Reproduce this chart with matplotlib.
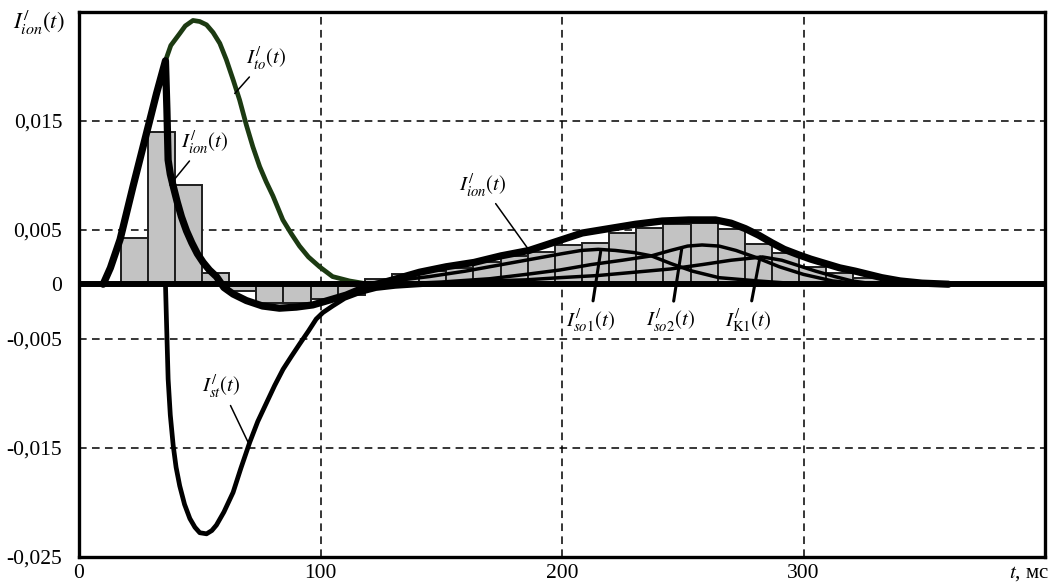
import matplotlib
matplotlib.use("Agg")
import matplotlib.pyplot as plt

plt.rcParams['mathtext.fontset'] = 'stix'
plt.rcParams['font.family'] = ['Liberation Serif', 'DejaVu Serif']

# ---------------- data ----------------
# histogram of I_ion(t): first bin start, bin width (ms) and bin values
bar_t0 = 17.2
bar_dt = 11.24
bar_vals = [0.0042, 0.0140, 0.0091, 0.0010, -0.0006, -0.0017, -0.0017, -0.0014,
            -0.0010, 0.0005, 0.0009, 0.0012, 0.0015, 0.0020, 0.0026, 0.0030,
            0.0036, 0.0038, 0.0047, 0.0052, 0.0055, 0.0056, 0.0051, 0.0037,
            0.0029, 0.0016, 0.0010, 0.0006]

# I_ion(t) (thick black)
ion_t = [10, 13, 17, 22.4, 28, 32.1, 35.8, 36.4, 36.9, 37.8, 39, 40.6, 42.4,
         44.5, 46.7, 49, 51.4, 54, 56.9, 60, 63.8, 69.3, 76, 83, 90, 96.8,
         103, 110.6, 116, 121.6, 130, 141, 152, 163.6, 174.7, 186.4, 197.4,
         208.4, 219.4, 230.4, 241.5, 252.5, 263.5, 270, 275.9, 281.4, 286.9,
         292, 297.9, 303, 309, 315, 321.4, 332.4, 340, 349, 360]
ion_v = [0, 0.0015, 0.0041, 0.0090, 0.0139, 0.0175, 0.0205, 0.0160, 0.0114,
         0.0101, 0.0090, 0.0076, 0.0062, 0.0049, 0.0038, 0.0028, 0.0020,
         0.0013, 0.0007, -0.0003, -0.0009, -0.0015, -0.0020, -0.0022,
         -0.0021, -0.0019, -0.0015, -0.0010, -0.0005, -0.0001, 0.0004,
         0.0011, 0.0016, 0.0020, 0.0026, 0.0031, 0.0039, 0.0047, 0.0051,
         0.0055, 0.0058, 0.0059, 0.0059, 0.0056, 0.0051, 0.0045, 0.0038,
         0.0032, 0.0027, 0.0023, 0.0019, 0.0015, 0.0012, 0.0006, 0.0003,
         0.0001, 0.0]

# I_to(t) (dark green)
to_t = [10, 13, 17, 22.4, 28, 32.1, 35.8, 38, 41.7, 44, 47.2, 50, 52.8, 55.5,
        58.3, 61, 63.9, 66.5, 69.3, 72, 74.8, 77.5, 80.3, 84.4, 88, 91.3, 95,
        99.6, 105, 112, 120]
to_v = [0, 0.0015, 0.0041, 0.0090, 0.0139, 0.0175, 0.0205, 0.0219, 0.0230,
        0.0237, 0.0242, 0.0241, 0.0238, 0.0231, 0.0221, 0.0206, 0.0187,
        0.0169, 0.0146, 0.0126, 0.0108, 0.0094, 0.0081, 0.0059, 0.0046,
        0.0035, 0.0025, 0.0016, 0.0007, 0.0003, 0.0]

# I_st(t)
st_t = [35.8, 36.3, 36.9, 37.8, 39, 40.2, 41.7, 43.7, 45.9, 48, 50, 52.8, 55,
        56.9, 60, 63.8, 67, 70.7, 74, 77.6, 81, 84.5, 88, 91.3, 95, 98.2,
        101, 105, 110, 116, 123, 131, 145]
st_v = [0, -0.0040, -0.0087, -0.0120, -0.0148, -0.0168, -0.0185, -0.0202,
        -0.0215, -0.0223, -0.0228, -0.0229, -0.0226, -0.0221, -0.0209,
        -0.0191, -0.0169, -0.0145, -0.0126, -0.0109, -0.0093, -0.0078,
        -0.0066, -0.0055, -0.0043, -0.0032, -0.0026, -0.0020, -0.0013,
        -0.0008, -0.0004, -0.0002, 0]

# I_so1(t), I_so2(t), I_K1(t)
so1_t = [115, 130, 145, 160, 175, 190, 200, 208, 215, 222, 230, 237, 245, 254,
         265, 281, 300]
so1_v = [0, 0.0003, 0.0007, 0.0012, 0.0018, 0.0024, 0.0028, 0.0031, 0.0032,
         0.0031, 0.0029, 0.0026, 0.0019, 0.0012, 0.0006, 0.0003, 0.0]
so2_t = [130, 150, 170, 185, 199, 212, 225, 237, 245, 252, 258, 265, 272, 281,
         290, 300, 312, 325]
so2_v = [0, 0.0002, 0.0005, 0.0009, 0.0013, 0.0018, 0.0022, 0.0026, 0.0031,
         0.0035, 0.0036, 0.0035, 0.0031, 0.0024, 0.0016, 0.0009, 0.0003, 0]
k1_t = [130, 150, 170, 185, 199, 215, 230, 245, 258, 270, 283, 291, 298, 305,
        313, 320, 330]
k1_v = [0, 0.0001, 0.0003, 0.0004, 0.0006, 0.0008, 0.0011, 0.0014, 0.0018,
        0.0022, 0.0025, 0.0022, 0.0017, 0.0012, 0.0007, 0.0003, 0]

x_ticks = [0, 100, 200, 300]
y_ticks = [-0.025, -0.015, -0.005, 0, 0.005, 0.015]
y_tick_labels = ['-0,025', '-0,015', '-0,005', '0', '0,005', '0,015']

# ---------------- figure ----------------
fig = plt.figure(figsize=(10.52, 5.83), dpi=100)
ax = fig.add_axes([0.0751, 0.0451, 0.9183, 0.9348])
ax.set_xlim(0, 400)
ax.set_ylim(-0.025, 0.025)

# grid
for gx in [100, 200, 300]:
    ax.axvline(gx, color='black', lw=1.1, ls=(0, (5, 3.5)), zorder=1)
for gy in [-0.015, -0.005, 0.005, 0.015]:
    ax.axhline(gy, color='black', lw=1.1, ls=(0, (5, 3.5)), zorder=1)

# bars
lefts = [bar_t0 + i * bar_dt for i in range(len(bar_vals))]
ax.bar(lefts, bar_vals, width=bar_dt, align='edge', color='#c3c3c3',
       edgecolor='#1e1e1e', linewidth=1.4, zorder=2)

green = '#1c3a12'
ax.plot(to_t, to_v, color=green, lw=3.4, solid_capstyle='round',
        solid_joinstyle='round', zorder=3)
ax.plot(st_t, st_v, color='black', lw=3.4, solid_joinstyle='round', zorder=4)
for tt, vv in [(so1_t, so1_v), (so2_t, so2_v), (k1_t, k1_v)]:
    ax.plot(tt, vv, color='black', lw=2.5, solid_joinstyle='round', zorder=4)
ax.plot(ion_t, ion_v, color='black', lw=5.2, solid_joinstyle='round',
        solid_capstyle='round', zorder=5)
ax.axhline(0, color='black', lw=4.3, zorder=5)

# ticks
ax.set_xticks(x_ticks)
ax.set_xticklabels([str(v) for v in x_ticks], fontsize=15.5)
ax.set_yticks(y_ticks)
ax.set_yticklabels(y_tick_labels, fontsize=15.5)
ax.tick_params(length=0, pad=12, axis='y')
ax.tick_params(length=0, pad=5, axis='x')
for s in ax.spines.values():
    s.set_linewidth(2.4)

# axis labels
fig.text(0.012, 0.962, r'$I^{/}_{ion}(t)$', fontsize=16.5, ha='left', va='center')
ax.annotate(r'$t$, мс', xy=(1.0, 0), xycoords='axes fraction',
            xytext=(3, -12), textcoords='offset points', ha='right', va='center',
            fontsize=15)

# annotations
fs = 15
def lab(text, xy, xytext, lw):
    ax.annotate(text, xy=xy, xytext=xytext, fontsize=fs, ha='center', va='center',
                arrowprops=dict(arrowstyle='-', color='black', lw=lw,
                                shrinkA=2, shrinkB=0), zorder=6)

lab(r'$I^{/}_{to}(t)$', (64.5, 0.0175), (77.3, 0.0207), 1.1)
lab(r'$I^{/}_{ion}(t)$', (37.6, 0.0091), (52, 0.0130), 1.1)
lab(r'$I^{/}_{ion}(t)$', (186.4, 0.0031), (167, 0.0091), 1.1)
lab(r'$I^{/}_{st}(t)$', (70, -0.0145), (59, -0.0094), 1.1)
lab(r'$I^{/}_{so1}(t)$', (216, 0.0030), (211.6, -0.0033), 2.2)
lab(r'$I^{/}_{so2}(t)$', (249.6, 0.0033), (245, -0.0033), 2.2)
lab(r'$I^{/}_{\mathrm{K1}}(t)$', (282, 0.0025), (277, -0.0033), 2.2)

fig.savefig('out.png', dpi=100)
